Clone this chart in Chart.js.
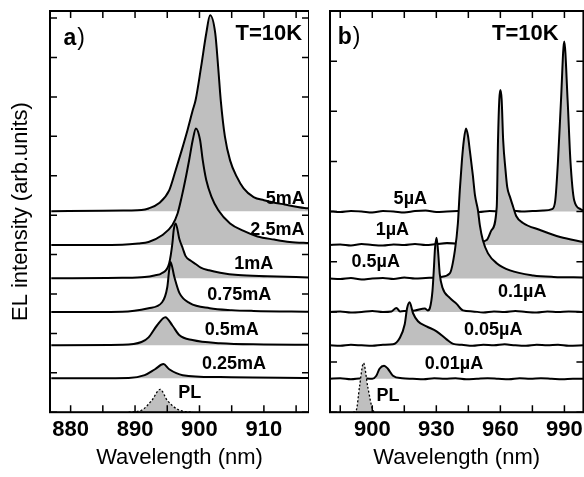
<!DOCTYPE html>
<html>
<head>
<meta charset="utf-8">
<script src="https://cdn.jsdelivr.net/npm/chart.js@4.4.1/dist/chart.umd.min.js"></script>
<style>
  html, body { margin: 0; padding: 0; background: #fff; overflow: hidden; }
  body { width: 584px; height: 477px; position: relative; }
  canvas { position: absolute; top: 0; }
  #chartA { left: 0; }
  #chartB { left: 310px; }
</style>
</head>
<body>
<canvas id="chartA" width="309" height="477"></canvas>
<canvas id="chartB" width="278" height="477"></canvas>
<script>
// ---- panel a) : EL vs current (mA), curves stacked with vertical offsets
const aNames = ["PL", "0.25mA", "0.5mA", "0.75mA", "1mA", "2.5mA", "5mA"];
const aOffsets = [0, 0.86, 1.70, 2.54, 3.40, 4.24, 5.10];

const wlA_PL = [889, 891.0, 892.6, 893.9, 895.0, 896.9, 899];
const elA_PL = [0, 0.05, 0.30, 0.58, 0.30, 0.05, 0];
const wlA_025 = [877, 889, 891.5, 893.1, 894.4, 895.3, 897.4, 903.2, 917.2];
const elA_025 = [0, 0.01, 0.08, 0.23, 0.36, 0.23, 0.08, 0.03, 0.01];
const wlA_05 = [877, 888, 891.0, 892.1, 893.4, 894.7, 895.8, 896.9, 898.9, 903.2, 910, 917.2];
const elA_05 = [0, 0.01, 0.08, 0.20, 0.50, 0.71, 0.50, 0.25, 0.13, 0.05, 0.02, 0.01];
const wlA_075 = [877, 888, 892.1, 894.2, 895.0, 895.3, 895.5, 896.1, 896.9, 898.5, 901.6, 905, 908.4, 917.2];
const elA_075 = [0, 0.01, 0.10, 0.25, 0.63, 1.07, 1.27, 0.89, 0.48, 0.23, 0.10, 0.05, 0.03, 0.01];
const wlA_1 = [877, 888, 891.5, 893, 894.2, 895.3, 895.8, 896.0, 896.3, 896.9, 897.4, 897.85, 898.6, 899.4, 900.2, 901.5, 903.2, 906, 910.5, 917.2];
const elA_1 = [0, 0.01, 0.03, 0.07, 0.13, 0.38, 0.89, 1.22, 1.39, 0.98, 0.76, 0.56, 0.45, 0.36, 0.27, 0.20, 0.14, 0.08, 0.05, 0.02];
const wlA_25 = [877, 888, 890.5, 892.1, 894.2, 895.8, 896.6, 897.25, 897.8, 898.4, 898.95, 899.45, 900.1, 900.5, 901.05, 901.85, 902.9, 904.75, 906.85, 909, 911.6, 914, 917.2];
const elA_25 = [0, 0.01, 0.04, 0.08, 0.25, 0.51, 0.80, 1.23, 1.65, 2.16, 2.66, 2.96, 2.66, 2.16, 1.65, 1.23, 0.89, 0.55, 0.36, 0.22, 0.14, 0.08, 0.05];
const wlA_5 = [877, 885, 889, 891.0, 892.1, 893.7, 895.3, 896.3, 897.25, 898.15, 898.95, 899.4, 900.25, 901.05, 901.65, 902.45, 902.9, 903.3, 903.95, 904.75, 905.8, 906.85, 908.4, 910, 913.2, 916.3, 917.2];
const elA_5 = [0, 0.01, 0.02, 0.03, 0.07, 0.20, 0.53, 1.04, 1.55, 2.06, 2.56, 2.82, 3.66, 4.51, 4.97, 4.51, 3.66, 2.82, 1.89, 1.29, 0.87, 0.58, 0.36, 0.28, 0.17, 0.08, 0.07];

const aWl = [wlA_PL, wlA_025, wlA_05, wlA_075, wlA_1, wlA_25, wlA_5];
const aEl = [elA_PL, elA_025, elA_05, elA_075, elA_1, elA_25, elA_5];

const aTickMarks = [880, 885, 890, 895, 900, 905, 910, 915];
const aTickLabels = [880, 890, 900, 910];
const aYMarks = [0, 1, 2, 3, 4, 5, 6, 7, 8, 9, 10];
const aLabelX = [896.7, 900.4, 900.8, 901.2, 905.4, 907.9, 910.3];
const aLabelY = [0.48, 1.22, 2.08, 2.97, 3.76, 4.62, 5.42];

// ---- panel b) : EL vs current (uA)
const bNames = ["PL", "0.01µA", "0.05µA", "0.1µA", "0.5µA", "1µA", "5µA"];
const bOffsets = [0, 0.667, 1.333, 2.0, 2.667, 3.333, 4.0];

const wlB_PL = [891, 892.5, 894.0, 895.9, 897.9, 900.3, 901.5];
const elB_PL = [0, 0.04, 0.50, 0.98, 0.50, 0.04, 0];
const wlB_001 = [880, 885, 890, 895, 900, 901.9, 903.4, 905.5, 907.3, 909.7, 914, 919, 924, 929, 934, 939, 944, 949, 954, 959, 964, 969, 974, 979, 984, 989, 994, 999];
const elB_001 = [0, 0.01, -0.01, 0.01, 0, 0.06, 0.20, 0.26, 0.20, 0.06, 0.01, 0, -0.01, 0.01, 0, 0.01, -0.01, 0, 0.01, 0, -0.01, 0.01, 0, 0.01, 0, -0.01, 0, 0];
const wlB_005 = [880, 885, 890, 895, 900, 905, 909.7, 912.8, 915.2, 916.3, 917.5, 919.1, 921.4, 925.4, 930.1, 934.8, 937.9, 942, 947, 952, 957, 962, 967, 972, 977, 982, 987, 992, 999];
const elB_005 = [0, -0.01, 0.01, 0, -0.01, 0.01, 0.02, 0.14, 0.42, 0.74, 0.86, 0.64, 0.48, 0.38, 0.28, 0.12, 0.03, 0.01, -0.01, 0.01, 0, 0.02, 0, -0.01, 0.01, 0, 0.01, -0.01, 0];
const wlB_01 = [880, 885, 890, 895, 900, 905, 909, 911.3, 913, 916, 920, 924.6, 926, 927, 928.2, 928.8, 929.4, 930.1, 930.8, 931.6, 932.9, 936.3, 939.5, 942.5, 947, 952, 957, 962, 967, 972, 977, 982, 987, 992, 999];
const elB_01 = [0, 0.01, -0.01, 0, 0.02, 0, 0.01, 0.08, 0.01, 0.02, 0.03, 0.07, 0.03, 0.08, 0.42, 0.82, 1.28, 1.48, 1.22, 0.76, 0.48, 0.28, 0.16, 0.03, 0.01, -0.01, 0.01, 0, 0.02, 0, -0.01, 0.01, 0, 0.01, 0];
const wlB_05 = [880, 885, 890, 895, 900, 905, 910, 915, 920, 925, 930, 932.1, 936.3, 938.7, 940.1, 941.0, 942.0, 942.9, 943.9, 944.8, 945.7, 947.1, 948.1, 949.5, 950.4, 951.8, 954.2, 958.4, 964.5, 975.4, 985, 999];
const elB_05 = [0, -0.01, 0.01, -0.02, 0, 0.01, -0.01, 0.02, 0, 0.01, 0.02, 0.03, 0.10, 0.56, 1.10, 1.76, 2.36, 2.76, 2.99, 2.85, 2.55, 2.06, 1.66, 1.36, 1.06, 0.76, 0.50, 0.30, 0.16, 0.06, 0.03, 0.02];
const wlB_1 = [880, 885, 890, 895, 900, 905, 910, 915, 920, 925, 930, 935, 940, 945, 950, 953.6, 955.9, 958.3, 958.9, 959.5, 960.0, 960.6, 961.3, 962.4, 963.2, 964.5, 966.0, 967.4, 970.6, 978.6, 988.0, 999];
const elB_1 = [0, 0.01, -0.01, 0.02, 0, -0.01, 0.01, 0, 0.02, 0, 0.02, 0.04, 0.03, 0.05, 0.06, 0.10, 0.30, 0.76, 2.10, 2.90, 3.09, 2.90, 2.10, 1.50, 1.16, 0.96, 0.76, 0.58, 0.44, 0.30, 0.16, 0.06];
const wlB_5 = [880, 885, 890, 895, 900, 905, 910, 915, 920, 925, 930, 935, 940, 945, 950, 955, 960, 965, 970, 975, 980, 984.2, 985.7, 987.0, 988.4, 989.9, 991.5, 992.8, 994.6, 997.5, 999];
const elB_5 = [0.01, -0.01, 0.01, 0, -0.02, 0.01, 0, -0.02, 0.01, 0.02, -0.01, 0, 0.01, 0.02, -0.01, 0.01, 0, 0.02, 0, 0.01, 0.02, 0.05, 0.22, 1.02, 2.22, 3.39, 2.22, 1.02, 0.22, 0.05, 0.02];

const bWl = [wlB_PL, wlB_001, wlB_005, wlB_01, wlB_05, wlB_1, wlB_5];
const bEl = [elB_PL, elB_001, elB_005, elB_01, elB_05, elB_1, elB_5];

const bTickMarks = [885, 900, 915, 930, 945, 960, 975, 990];
const bTickLabels = [900, 930, 960, 990];
const bYMarks = [0, 1, 2, 3, 4, 5, 6, 7, 8];
const bLabelX = [902.0, 924.6, 943.0, 958.9, 890.3, 901.6, 910.0];
const bLabelY = [0.32, 0.96, 1.64, 2.40, 2.99, 3.63, 4.25];

const FONT = "'Liberation Sans', Arial, Helvetica, sans-serif";
Chart.defaults.font.family = FONT;
Chart.defaults.color = '#000';

function makeDatasets(wls, els, offsets) {
  return wls.map((wl, i) => ({
    data: wl.map((w, k) => ({ x: w, y: offsets[i] + els[i][k] })),
    borderColor: '#000',
    borderWidth: i === 0 ? 1.3 : 2,
    borderDash: i === 0 ? [2, 2] : [],
    backgroundColor: '#bfbfbf',
    fill: { value: offsets[i] },
    pointRadius: 0,
    cubicInterpolationMode: 'monotone'
  }));
}

// frame, inward ticks and text labels
const framePlugin = {
  id: 'frame',
  afterDraw(chart, args, o) {
    const { ctx, chartArea: ca } = chart;
    const x = chart.scales.x, y = chart.scales.y;
    ctx.save();
    ctx.strokeStyle = '#000';
    ctx.lineWidth = 1.5;
    ctx.beginPath();
    o.xMarks.forEach(v => {
      const px = x.getPixelForValue(v);
      ctx.moveTo(px, ca.bottom); ctx.lineTo(px, ca.bottom - 7);
      ctx.moveTo(px, ca.top); ctx.lineTo(px, ca.top + 7);
    });
    o.yMarks.forEach(v => {
      const py = y.getPixelForValue(v);
      ctx.moveTo(ca.left, py); ctx.lineTo(ca.left + 7, py);
      ctx.moveTo(ca.right, py); ctx.lineTo(ca.right - 7, py);
    });
    ctx.stroke();
    ctx.lineWidth = 2;
    ctx.strokeRect(ca.left, ca.top, ca.right - ca.left, ca.bottom - ca.top);

    ctx.fillStyle = '#000';
    ctx.textAlign = 'left';
    ctx.textBaseline = 'middle';
    ctx.font = 'bold 18px ' + FONT;
    o.names.forEach((t, i) => {
      ctx.fillText(t, x.getPixelForValue(o.lx[i]), y.getPixelForValue(o.ly[i]));
    });
    // panel letter
    const px = x.getPixelForValue(o.letterPos[0]);
    const py = y.getPixelForValue(o.letterPos[1]);
    ctx.font = 'bold 23px ' + FONT;
    ctx.fillText(o.letter, px, py);
    const w = ctx.measureText(o.letter).width;
    ctx.font = '23px ' + FONT;
    ctx.fillText(')', px + w + 1, py);
    ctx.font = 'bold 22px ' + FONT;
    ctx.fillText('T=10K', x.getPixelForValue(o.tempPos[0]), y.getPixelForValue(o.tempPos[1]));
    ctx.restore();
  }
};

function xScale(min, max, marks, labels) {
  return {
    type: 'linear', min: min, max: max,
    afterBuildTicks: s => { s.ticks = marks.map(v => ({ value: v })); },
    grid: { display: false, drawTicks: false },
    border: { display: false },
    ticks: {
      autoSkip: false, maxRotation: 0, padding: 5,
      font: { size: 22, weight: 'bold' },
      callback: v => labels.includes(v) ? String(v) : ''
    },
    title: { display: true, text: 'Wavelength (nm)', font: { size: 22 }, padding: { top: -4, bottom: 6 } }
  };
}

new Chart('chartA', {
  type: 'line',
  data: { datasets: makeDatasets(aWl, aEl, aOffsets) },
  plugins: [framePlugin],
  options: {
    responsive: false, animation: false,
    layout: { padding: { left: 0, top: 11, right: 0, bottom: 0 } },
    plugins: {
      legend: { display: false }, tooltip: { enabled: false },
      frame: {
        xMarks: aTickMarks, yMarks: aYMarks, names: aNames, lx: aLabelX, ly: aLabelY,
        letter: 'a', letterPos: [878.9, 9.49], tempPos: [905.6, 9.59]
      }
    },
    scales: {
      x: xScale(876.8, 917.0, aTickMarks, aTickLabels),
      y: {
        min: 0, max: 10.18,
        grid: { display: false, drawTicks: false },
        border: { display: false },
        ticks: { display: false },
        title: { display: true, text: 'EL intensity (arb.units)', font: { size: 22 }, padding: { top: 8, bottom: 15.6 } }
      }
    }
  }
});

new Chart('chartB', {
  type: 'line',
  data: { datasets: makeDatasets(bWl, bEl, bOffsets) },
  plugins: [framePlugin],
  options: {
    responsive: false, animation: false,
    layout: { padding: { left: 20, top: 11, right: 3, bottom: 0 } },
    plugins: {
      legend: { display: false }, tooltip: { enabled: false },
      frame: {
        xMarks: bTickMarks, yMarks: bYMarks, names: bNames, lx: bLabelX, ly: bLabelY,
        letter: 'b', letterPos: [883.8, 7.47], tempPos: [956.1, 7.55]
      }
    },
    scales: {
      x: xScale(880.2, 998.9, bTickMarks, bTickLabels),
      y: { display: false, min: 0, max: 8 }
    }
  }
});
</script>
</body>
</html>
